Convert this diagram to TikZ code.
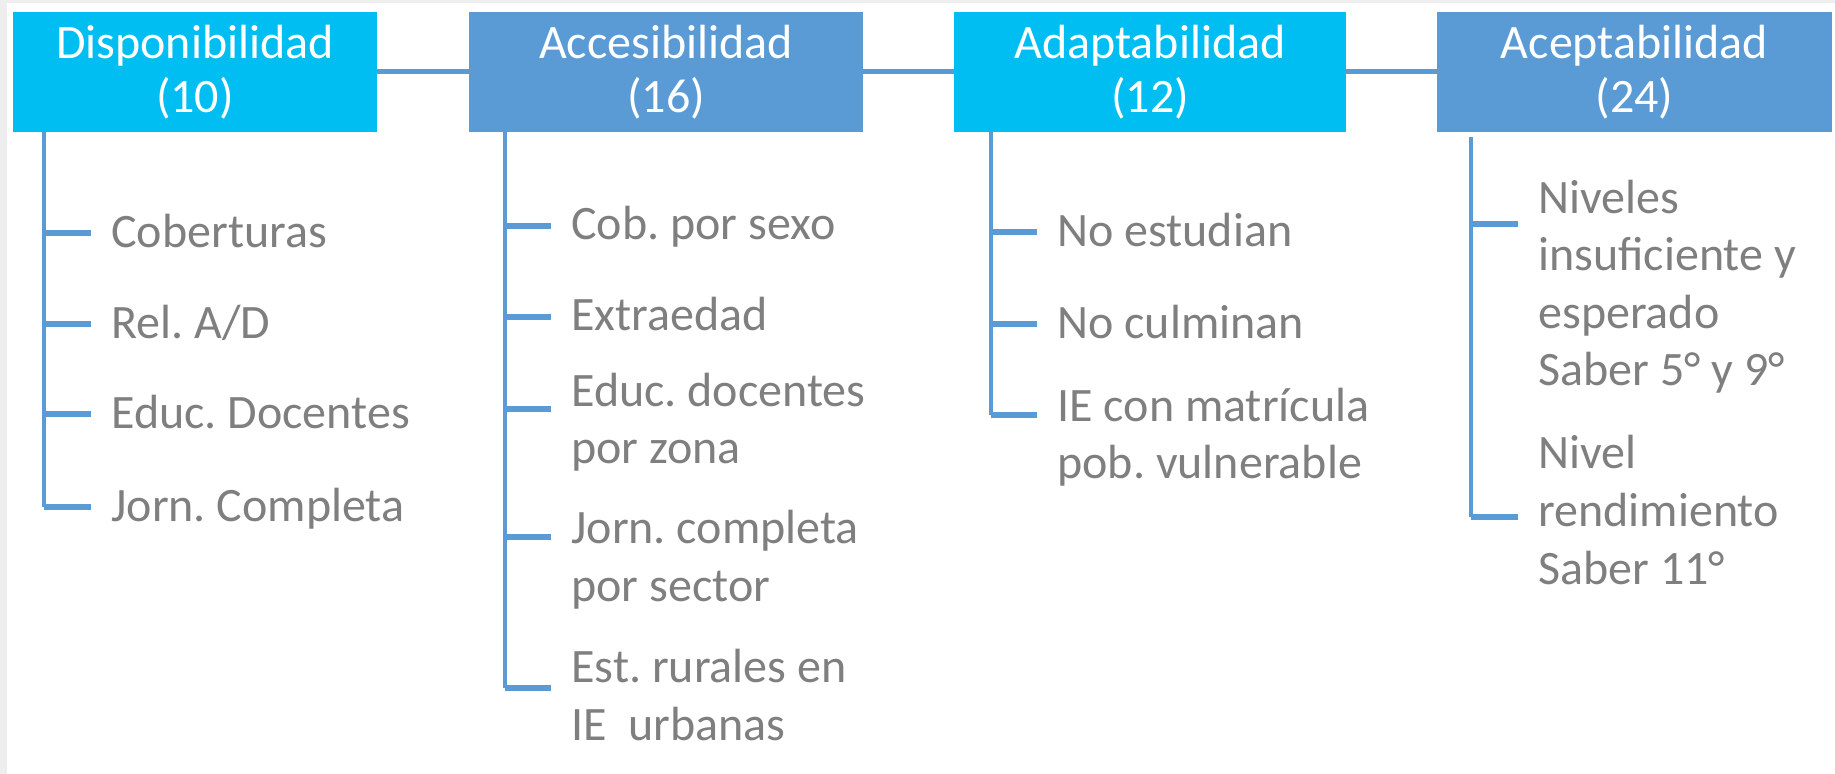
\documentclass[tikz,border=0pt]{standalone}
\usepackage{fontspec}
\setmainfont{Carlito}
\frenchspacing
\definecolor{cian}{HTML}{00BEF2}
\definecolor{azul}{HTML}{5B9BD5}
\definecolor{gris}{HTML}{7F7F7F}
\definecolor{marco}{HTML}{EEEEEE}
\tikzset{
	dim/.style={fill=#1, text=white, minimum height=60pt, inner sep=0pt, align=center, font=\fontsize{24}{28.8}\selectfont},
	item/.style={anchor=base west, inner xsep=10pt, inner ysep=0pt, align=left, text=gris, font=\fontsize{24}{28.8}\selectfont},
	spine/.style={azul, line width=1.6pt},
	tick/.style={azul, line width=2.6pt},
	link/.style={azul, line width=2.5pt}
}
\begin{document}
\begin{tikzpicture}[x=0.5pt, y=-0.5pt]
	
	\useasboundingbox (0,0) rectangle (1835,774);
	\fill[marco] (0,0) rectangle (1835,774);
	\fill[white] (7,3) rectangle (1835,774);
	
	% dimensiones
	\node[dim=cian, minimum width=182pt] (disp) at (195,72) {\raisebox{-1.5pt}{Disponibilidad}\\(10)};
	\node[dim=azul, minimum width=197pt] (acce) at (666,72) {\raisebox{-1.5pt}{Accesibilidad}\\(16)};
	\node[dim=cian, minimum width=196pt] (adap) at (1150,72) {\raisebox{-1.5pt}{Adaptabilidad}\\(12)};
	\node[dim=azul, minimum width=197.5pt] (acep) at (1634.5,72) {\raisebox{-1.5pt}{Aceptabilidad}\\(24)};
	
	\draw[link] (disp) -- (acce);
	\draw[link] (acce) -- (adap);
	\draw[link] (adap) -- (acep);
	
	% Disponibilidad
	\node[item] (d1) at (91,248) {Coberturas};
	\node[item] (d2) at (91,339) {Rel. A/D};
	\node[item] (d3) at (91,429) {Educ. Docentes};
	\node[item] (d4) at (91,522) {Jorn. Completa};
	\coordinate (kd1) at (44,233);
	\coordinate (kd2) at (44,324);
	\coordinate (kd3) at (44,414);
	\coordinate (kd4) at (44,507);
	\draw[spine] (kd4 |- disp.south) -- (kd4);
	\draw[tick] (kd1) -- (kd1 -| d1.west);
	\draw[tick] (kd2) -- (kd2 -| d2.west);
	\draw[tick] (kd3) -- (kd3 -| d3.west);
	\draw[tick] (kd4) -- (kd4 -| d4.west);
	
	% Accesibilidad (base = ultima linea)
	\node[item] (c1) at (551,240) {Cob. por sexo};
	\node[item] (c2) at (551,331) {Extraedad};
	\node[item] (c3) at (551,464) {Educ. docentes\\por zona};
	\node[item] (c4) at (551,601) {Jorn. completa\\por sector};
	\node[item] (c5) at (551,740) {Est. rurales en\\IE\ \ urbanas};
	\coordinate (kc1) at (505,226);
	\coordinate (kc2) at (505,317);
	\coordinate (kc3) at (505,409);
	\coordinate (kc4) at (505,537);
	\coordinate (kc5) at (505,688);
	\draw[spine] (kc5 |- acce.south) -- (kc5);
	\draw[tick] (kc1) -- (kc1 -| c1.west);
	\draw[tick] (kc2) -- (kc2 -| c2.west);
	\draw[tick] (kc3) -- (kc3 -| c3.west);
	\draw[tick] (kc4) -- (kc4 -| c4.west);
	\draw[tick] (kc5) -- (kc5 -| c5.west);
	
	% Adaptabilidad
	\node[item] (a1) at (1037,247) {No estudian};
	\node[item] (a2) at (1037,339) {No culminan};
	\node[item] (a3) at (1037,479) {IE con matrícula\\pob. vulnerable};
	\coordinate (ka1) at (991,232);
	\coordinate (ka2) at (991,324);
	\coordinate (ka3) at (991,415);
	\draw[spine] (ka3 |- adap.south) -- (ka3);
	\draw[tick] (ka1) -- (ka1 -| a1.west);
	\draw[tick] (ka2) -- (ka2 -| a2.west);
	\draw[tick] (ka3) -- (ka3 -| a3.west);
	
	% Aceptabilidad
	\node[item] (p1) at (1518,386) {Niveles\\insuficiente y\\esperado\\Saber 5° y 9°};
	\node[item] (p2) at (1518,584) {Nivel\\rendimiento\\Saber 11°};
	\coordinate (kp1) at (1471,224);
	\coordinate (kp2) at (1471,517);
	\draw[spine] ([yshift=-2.5pt]kp2 |- acep.south) -- (kp2);
	\draw[tick] (kp1) -- (kp1 -| p1.west);
	\draw[tick] (kp2) -- (kp2 -| p2.west);
	
\end{tikzpicture}
\end{document}
